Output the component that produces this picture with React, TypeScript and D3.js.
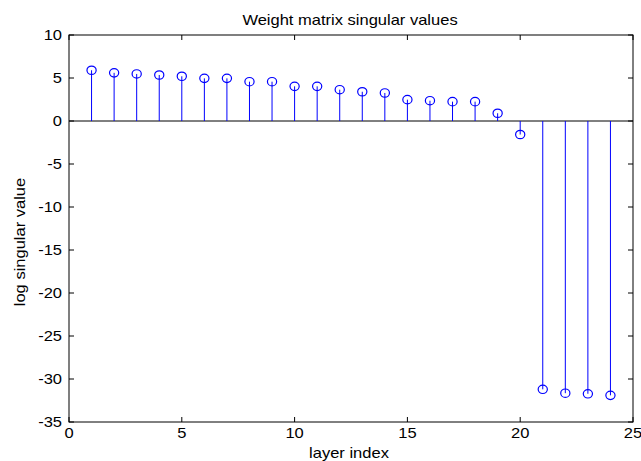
import React from "react";
import * as d3 from "d3";

const layerIndex = [1, 2, 3, 4, 5, 6, 7, 8, 9, 10, 11, 12, 13, 14, 15, 16, 17, 18, 19, 20, 21, 22, 23, 24];
const logSingular = [5.9, 5.6, 5.47, 5.35, 5.2, 4.96, 4.96, 4.57, 4.57, 4.03, 4.03, 3.64, 3.4, 3.26, 2.48, 2.36, 2.25, 2.25, 0.9, -1.57, -31.2, -31.65, -31.72, -31.9];
const xTicks = [0, 5, 10, 15, 20, 25];
const yTicks = [10, 5, 0, -5, -10, -15, -20, -25, -30, -35];

const W = 641, H = 461;
const L = 69, R = 633, T = 35, B = 422;
const FONT = "'Liberation Sans', Arial, Helvetica, sans-serif";
const SX = 1.18;

export default function App() {
  const x = d3.scaleLinear().domain([0, 25]).range([L, R]);
  const y = d3.scaleLinear().domain([-35, 10]).range([B, T]);
  const tl = 5;
  const txt = (key: string, tx: number, ty: number, s: string, anchor: string, rot = 0, size = 14) => (
    <text
      key={key}
      transform={`translate(${tx},${ty})${rot ? ` rotate(${rot})` : ""} scale(${SX},1)`}
      textAnchor={anchor}
      fontFamily={FONT}
      fontSize={size}
      fill="#000"
    >
      {s}
    </text>
  );
  return (
    <svg width={W} height={H} style={{ position: "absolute", left: 0, top: 0, background: "#fff" }}>
      <rect x={0} y={0} width={W} height={H} fill="#fff" />
      {/* zero baseline */}
      <line x1={L} x2={R} y1={y(0)} y2={y(0)} stroke="#000" strokeWidth={1} />
      {/* stems */}
      {layerIndex.map((d, i) => (
        <line key={"s" + i} x1={x(d)} x2={x(d)} y1={y(0)} y2={y(logSingular[i])} stroke="#0000ff" strokeWidth={1} />
      ))}
      {layerIndex.map((d, i) => (
        <ellipse key={"m" + i} cx={x(d)} cy={y(logSingular[i])} rx={4.6} ry={4.2} fill="none" stroke="#0000ff" strokeWidth={1.2} />
      ))}
      {/* box */}
      <rect x={L} y={T} width={R - L} height={B - T} fill="none" stroke="#000" strokeWidth={1} />
      {/* ticks */}
      {xTicks.map((t) => (
        <g key={"xt" + t}>
          <line x1={x(t)} x2={x(t)} y1={B} y2={B - tl} stroke="#000" />
          <line x1={x(t)} x2={x(t)} y1={T} y2={T + tl} stroke="#000" />
        </g>
      ))}
      {yTicks.map((t) => (
        <g key={"yt" + t}>
          <line x1={L} x2={L + tl} y1={y(t)} y2={y(t)} stroke="#000" />
          <line x1={R} x2={R - tl} y1={y(t)} y2={y(t)} stroke="#000" />
        </g>
      ))}
      {xTicks.map((t) => txt("xl" + t, x(t), 438, String(t), "middle"))}
      {yTicks.map((t) => txt("yl" + t, 62, y(t) + 5, String(t), "end"))}
      {txt("title", 350, 25, "Weight matrix singular values", "middle")}
      {txt("xlabel", 349, 458, "layer index", "middle")}
      {txt("ylabel", 25, 242, "log singular value", "middle", -90)}
    </svg>
  );
}
